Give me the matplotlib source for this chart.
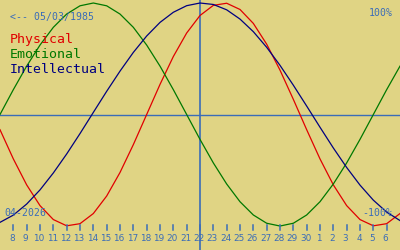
import matplotlib
matplotlib.use("Agg")
import matplotlib.pyplot as plt

# days shown (x = 0 .. 30), day 7 at the left edge
days = [7, 8, 9, 10, 11, 12, 13, 14, 15, 16, 17, 18, 19, 20, 21, 22, 23, 24, 25, 26,
        27, 28, 29, 30, 1, 2, 3, 4, 5, 6, 7]
today = 22

physical = [-0.136, -0.398, -0.631, -0.817, -0.942, -0.998, -0.979, -0.888, -0.731, -0.520,
            -0.270, 0.0, 0.270, 0.520, 0.731, 0.888, 0.979, 0.998, 0.942, 0.817,
            0.631, 0.398, 0.136, -0.136, -0.398, -0.631, -0.817, -0.942, -0.998, -0.979,
            -0.888]
emotional = [0.0, 0.223, 0.434, 0.623, 0.782, 0.901, 0.975, 1.0, 0.975, 0.901,
             0.782, 0.623, 0.434, 0.223, 0.0, -0.223, -0.434, -0.623, -0.782, -0.901,
             -0.975, -1.0, -0.975, -0.901, -0.782, -0.623, -0.434, -0.223, 0.0, 0.223,
             0.434]
intellectual = [-0.967, -0.902, -0.803, -0.676, -0.524, -0.354, -0.171, 0.019, 0.208, 0.389,
                0.557, 0.704, 0.826, 0.917, 0.976, 1.0, 0.987, 0.939, 0.856, 0.743,
                0.603, 0.441, 0.263, 0.076, -0.114, -0.300, -0.475, -0.633, -0.768, -0.875,
                -0.951]

series = [("Physical", physical, "#e00000"),
          ("Emotional", emotional, "#007800"),
          ("Intellectual", intellectual, "#000080")]

bg = "#e0d484"
blue = "#3a6cb8"
mono = "DejaVu Sans Mono"

fig = plt.figure(figsize=(4, 2.5), dpi=100, facecolor=bg)
ax = fig.add_axes([0, 0, 1, 1])
ax.set_facecolor(bg)
ax.set_xlim(0, 30)
ax.set_ylim(-1.215, 1.027)
ax.axis("off")

x = list(range(len(days)))

# zero line and today line
ax.axhline(0, color=blue, lw=1)
ax.axvline(days.index(today), color=blue, lw=1.2)

for name, vals, col in series:
    ax.plot(x, vals, color=col, lw=0.9)

# day ticks along the bottom
for i, d in enumerate(days):
    if i == 0 or i == len(days) - 1:
        continue
    ax.plot([i, i], [-0.991, -1.04], color=blue, lw=1.1)
    ax.text(i - 0.08, -1.108, str(d), ha="center", va="center",
            fontsize=6.4, color=blue)

# texts
def px(yp):
    return (114.5 - yp) / 111.5

ax.text(0.75, px(20), "<-- 05/03/1985", fontsize=7.1, color=blue,
        family=mono, va="baseline", ha="left")
for (name, vals, col), yb in zip(series, [42.5, 57.5, 72.5]):
    ax.text(0.75, px(yb), name, fontsize=9.5, color=col, family=mono,
            va="baseline", ha="left")
ax.text(29.45, px(16), "100%", fontsize=7.1, color=blue, family=mono,
        va="baseline", ha="right")
ax.text(29.45, px(216), "-100%", fontsize=7.1, color=blue, family=mono,
        va="baseline", ha="right")
ax.text(0.35, px(216), "04-2026", fontsize=7.1, color=blue, family=mono,
        va="baseline", ha="left")

fig.savefig("out.png", dpi=100, facecolor=bg)
